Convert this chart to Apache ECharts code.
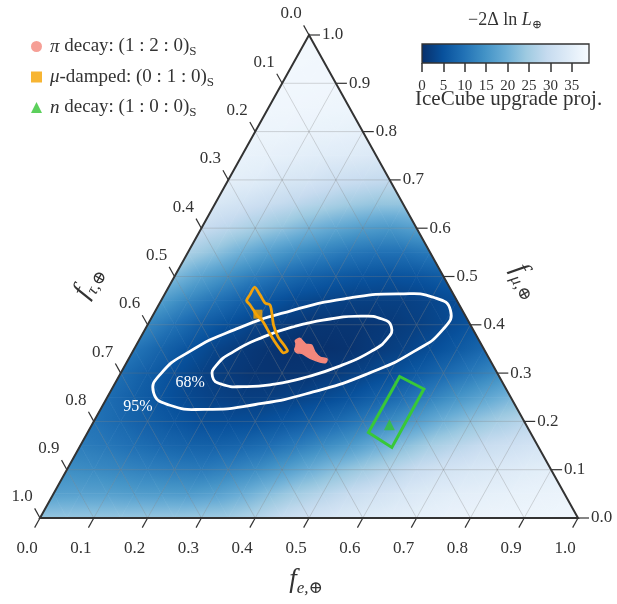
<!DOCTYPE html>
<html>
<head>
<meta charset="utf-8">
<script src="https://cdn.jsdelivr.net/npm/echarts@6/dist/echarts.min.js"></script>
<style>
  html, body { margin: 0; padding: 0; background: #fff; }
  #chart { width: 617px; height: 604px; }
</style>
</head>
<body>
<div id="chart"></div>
<script>
// Ternary axis ticks (shared by f_e, f_mu and f_tau)
const ternaryTicks = [0, 0.1, 0.2, 0.3, 0.4, 0.5, 0.6, 0.7, 0.8, 0.9, 1.0];
const tickLabels = ['0.0', '0.1', '0.2', '0.3', '0.4', '0.5', '0.6', '0.7', '0.8', '0.9', '1.0'];

// -2 Delta ln L on a ternary lattice: row j is f_mu = j*heatStep, entry i is f_e = i*heatStep
const heatStep = 0.05;
const heatRows = [
  [23.5, 23.6, 23.7, 23.7, 23.8, 23.9, 24.3, 24.9, 26.9, 29.6, 31.5, 32.9, 34.1, 34.9, 35.6, 36.3, 36.6, 37.0, 37.2, 37.4, 37.5],
  [17.1, 17.2, 17.0, 16.5, 16.3, 16.1, 17.1, 19.2, 22.1, 25.0, 27.3, 29.6, 31.4, 32.9, 34.2, 35.0, 35.5, 35.9, 36.3, 36.6],
  [14.0, 13.5, 12.8, 12.0, 11.4, 11.1, 12.2, 13.8, 16.3, 19.2, 22.1, 24.8, 27.3, 29.8, 31.6, 32.8, 33.7, 34.5, 35.1],
  [11.5, 10.6, 9.4, 8.3, 7.5, 7.3, 7.9, 9.2, 11.1, 13.5, 15.9, 19.0, 22.2, 25.3, 27.6, 29.6, 30.8, 32.1],
  [9.9, 8.4, 6.9, 5.6, 4.4, 4.3, 4.5, 5.5, 6.9, 8.7, 11.0, 13.6, 16.6, 20.0, 22.9, 25.3, 27.4],
  [9.1, 7.1, 5.3, 3.7, 2.6, 2.0, 2.1, 2.6, 3.7, 5.1, 7.1, 9.3, 12.0, 14.9, 17.7, 20.6],
  [9.2, 6.8, 4.7, 2.7, 1.6, 0.7, 0.6, 0.8, 1.6, 2.7, 4.3, 6.2, 8.5, 10.9, 13.5],
  [10.5, 7.7, 5.2, 3.1, 1.6, 0.6, 0.1, 0.2, 0.5, 1.5, 2.6, 4.3, 6.1, 8.3],
  [13.0, 9.8, 6.8, 4.7, 2.8, 1.7, 0.9, 0.7, 0.9, 1.4, 2.3, 3.5, 5.1],
  [16.6, 13.0, 10.0, 7.4, 5.5, 3.9, 3.0, 2.4, 2.3, 2.4, 3.1, 4.2],
  [21.4, 17.4, 14.3, 11.4, 9.2, 7.4, 6.2, 5.4, 5.0, 5.4, 6.5],
  [26.0, 23.0, 19.6, 16.7, 14.2, 12.3, 10.6, 9.8, 9.8, 11.0],
  [29.9, 27.8, 25.4, 23.0, 20.4, 18.2, 16.5, 15.6, 17.0],
  [33.0, 31.5, 29.9, 28.2, 26.5, 24.7, 23.5, 23.5],
  [35.4, 34.6, 33.2, 32.3, 30.8, 29.8, 29.0],
  [36.4, 35.9, 35.3, 34.6, 34.1, 33.5],
  [37.1, 36.9, 36.5, 36.2, 35.8],
  [37.6, 37.5, 37.3, 37.1],
  [37.9, 37.8, 37.7],
  [38.0, 37.9],
  [38.0]
];

// Colour scale of -2 Delta ln L
const colorTicks = [0, 5, 10, 15, 20, 25, 30, 35];
const colorMax = 39;
const bluesPalette = ['#08306b', '#08519c', '#2171b5', '#4292c6', '#6baed6', '#9ecae1', '#c6dbef', '#deebf7', '#f7fbff'];

// Confidence contours, points as [f_e, f_mu]
const contour68 = [
  [0.455, 0.396], [0.460, 0.372], [0.442, 0.344], [0.404, 0.317], [0.353, 0.293], [0.297, 0.277],
  [0.243, 0.272], [0.199, 0.277], [0.174, 0.293], [0.170, 0.317], [0.188, 0.345], [0.225, 0.373],
  [0.276, 0.397], [0.333, 0.412], [0.387, 0.418], [0.430, 0.412]
];
const contour95 = [
  [0.548, 0.430], [0.554, 0.391], [0.524, 0.346], [0.462, 0.300], [0.377, 0.261], [0.283, 0.235],
  [0.194, 0.225], [0.123, 0.234], [0.081, 0.260], [0.075, 0.298], [0.105, 0.344], [0.167, 0.390],
  [0.252, 0.429], [0.346, 0.455], [0.435, 0.464], [0.506, 0.456]
];
const contourNames = ['68%', '95%'];
const contourLabelAt = [[0.139, 0.280], [0.067, 0.230]];

// Allowed flavour regions at Earth for each source scenario, points as [f_e, f_mu]
const piDecayRegion = [
  [0.291, 0.367], [0.297, 0.372], [0.307, 0.365], [0.314, 0.360], [0.326, 0.358], [0.339, 0.344],
  [0.354, 0.333], [0.369, 0.329], [0.370, 0.322], [0.359, 0.323], [0.341, 0.329], [0.328, 0.335],
  [0.316, 0.341], [0.307, 0.342], [0.299, 0.349], [0.298, 0.358]
];
const muDampedRegion = [
  [0.160, 0.478], [0.178, 0.462], [0.196, 0.445], [0.207, 0.441], [0.219, 0.424], [0.234, 0.400],
  [0.255, 0.375], [0.278, 0.355], [0.287, 0.346], [0.281, 0.342], [0.272, 0.349], [0.254, 0.365],
  [0.236, 0.382], [0.218, 0.400], [0.207, 0.410], [0.193, 0.420], [0.181, 0.431], [0.170, 0.441],
  [0.159, 0.450], [0.159, 0.462]
];
const nDecayRegion = [[0.522, 0.293], [0.580, 0.267], [0.581, 0.146], [0.522, 0.177]];

// Best-fit flavour composition of each scenario, [f_e, f_mu]
const piDecayPoint = [0.305, 0.356];
const muDampedPoint = [0.194, 0.422];
const nDecayPoint = [0.553, 0.193];

const seriesNames = ['π decay', 'μ-damped', 'n decay'];
const legendParts = [
  ['π', ' decay: (1 : 2 : 0)'],
  ['μ', '-damped: (0 : 1 : 0)'],
  ['n', ' decay: (1 : 0 : 0)']
];

const SERIF = "'Liberation Serif', 'DejaVu Serif', serif";
const INK = '#333';

// ternary [f_e, f_mu] -> plane [x, y] of the hidden cartesian grid
const toXY = ([fe, fmu]) => [fe + fmu / 2, fmu];

// lattice triangles of the heat surface
const triangles = [];
for (let j = 0; j < heatRows.length - 1; j++) {
  for (let i = 0; i < heatRows[j].length - 1; i++) {
    triangles.push([[i, j], [i + 1, j], [i, j + 1]]);
    if (i + 1 < heatRows[j + 1].length) triangles.push([[i + 1, j], [i + 1, j + 1], [i, j + 1]]);
  }
}
const heatValue = ([i, j]) => heatRows[j][i];
const latticePoint = ([i, j]) => toXY([i * heatStep, j * heatStep]);

const colorOf = v => echarts.color.lerp(Math.min(1, Math.max(0, v / colorMax)), bluesPalette);

// fill of one lattice triangle: linear gradient along the steepest direction of the values
function shadeTriangle(p, v) {
  const dx1 = p[1][0] - p[0][0], dy1 = p[1][1] - p[0][1];
  const dx2 = p[2][0] - p[0][0], dy2 = p[2][1] - p[0][1];
  const dv1 = v[1] - v[0], dv2 = v[2] - v[0];
  const D = dx1 * dy2 - dx2 * dy1;
  const gx = (dv1 * dy2 - dv2 * dy1) / D;
  const gy = (dx1 * dv2 - dx2 * dv1) / D;
  const g2 = gx * gx + gy * gy;
  const lo = Math.min(v[0], v[1], v[2]), hi = Math.max(v[0], v[1], v[2]);
  if (g2 < 1e-12 || hi - lo < 1e-6) return colorOf((v[0] + v[1] + v[2]) / 3);
  const s = (lo - v[0]) / g2, e = (hi - v[0]) / g2;
  const stops = [];
  for (let k = 0; k <= 4; k++) {
    const t = k / 4;
    stops.push({ offset: t, color: colorOf(lo + t * (hi - lo)) });
  }
  return new echarts.graphic.LinearGradient(
    p[0][0] + s * gx, p[0][1] + s * gy, p[0][0] + e * gx, p[0][1] + e * gy, stops, true);
}

const unit = (a, b) => {
  const dx = b[0] - a[0], dy = b[1] - a[1], l = Math.hypot(dx, dy);
  return [dx / l, dy / l];
};

function tickText(text, x, y, align) {
  return {
    type: 'text', x, y,
    style: { text, fontFamily: SERIF, fontSize: 17, fill: INK, align, verticalAlign: 'middle' }
  };
}
function segment(a, b, style) {
  return { type: 'line', shape: { x1: a[0], y1: a[1], x2: b[0], y2: b[1] }, style };
}
function axisTitle(sub, x, y, deg) {
  return {
    type: 'text', x, y, rotation: deg * Math.PI / 180,
    style: {
      text: '{f|f}{s|' + sub + '}', align: 'center', verticalAlign: 'middle',
      rich: {
        f: { fontFamily: SERIF, fontSize: 27, fontStyle: 'italic', fill: INK },
        s: { fontFamily: SERIF, fontSize: 17, fontStyle: 'italic', fill: INK, verticalAlign: 'bottom', lineHeight: 34 }
      }
    }
  };
}

const chart = echarts.init(document.getElementById('chart'), null, { renderer: 'canvas' });

const option = {
  animation: false,
  backgroundColor: '#fff',
  grid: [
    { left: 40, right: 39, top: 35, bottom: 86 },
    { left: 422, top: 44, width: 167, height: 19 }
  ],
  xAxis: [
    { gridIndex: 0, type: 'value', min: 0, max: 1, show: false },
    {
      gridIndex: 1, type: 'value', min: 0, max: colorMax,
      axisLine: { show: false },
      splitLine: { show: false },
      axisTick: { show: true, customValues: colorTicks, length: 9, lineStyle: { color: INK, width: 1.5 } },
      axisLabel: { customValues: colorTicks, fontFamily: SERIF, fontSize: 15, color: INK, margin: 16 }
    }
  ],
  yAxis: [
    { gridIndex: 0, type: 'value', min: 0, max: 1, show: false },
    { gridIndex: 1, type: 'value', min: 0, max: 1, show: false }
  ],
  visualMap: {
    show: false, type: 'continuous', seriesIndex: 0, dimension: 2,
    min: 0, max: colorMax, inRange: { color: bluesPalette }
  },
  legend: {
    orient: 'vertical', left: 31, top: 37, padding: 0, itemWidth: 11, itemHeight: 11, itemGap: 9,
    data: [
      { name: seriesNames[0], icon: 'circle' },
      { name: seriesNames[1], icon: 'rect' },
      { name: seriesNames[2], icon: 'triangle' }
    ],
    formatter: name => {
      const k = seriesNames.indexOf(name);
      return '{it|' + legendParts[k][0] + '}{tx|' + legendParts[k][1] + '}{sub|S}';
    },
    textStyle: {
      color: INK, fontFamily: SERIF, fontSize: 19,
      rich: {
        it: { fontFamily: SERIF, fontSize: 19, fontStyle: 'italic', color: INK, lineHeight: 24, padding: [0, 0, 0, 3] },
        tx: { fontFamily: SERIF, fontSize: 19, color: INK, lineHeight: 24 },
        sub: { fontFamily: SERIF, fontSize: 13, color: INK, verticalAlign: 'bottom', lineHeight: 24 }
      }
    }
  },
  graphic: [
    {
      type: 'text', x: 505, y: 20,
      style: {
        text: '{a|−2Δ ln }{b|L}{c|⊕}', align: 'center', verticalAlign: 'middle',
        rich: {
          a: { fontFamily: SERIF, fontSize: 18, fill: INK },
          b: { fontFamily: SERIF, fontSize: 18, fontStyle: 'italic', fill: INK },
          c: { fontFamily: SERIF, fontSize: 12, fill: INK, verticalAlign: 'bottom', lineHeight: 22 }
        }
      }
    },
    {
      type: 'text', x: 415, y: 99,
      style: { text: 'IceCube upgrade proj.', fontFamily: SERIF, fontSize: 21, fill: INK, align: 'left', verticalAlign: 'middle' }
    },
    axisTitle('e,⊕', 306, 580, 0),
    axisTitle('τ,⊕', 88, 282, 60.9),
    axisTitle('μ,⊕', 526, 281, -60.9)
  ],
  series: [
    // heat surface
    {
      type: 'custom', name: 'likelihood', coordinateSystem: 'cartesian2d', xAxisIndex: 0, yAxisIndex: 0,
      silent: true, z: 1,
      data: triangles.map(t => {
        const c = t.map(latticePoint);
        return [(c[0][0] + c[1][0] + c[2][0]) / 3, (c[0][1] + c[1][1] + c[2][1]) / 3,
          (heatValue(t[0]) + heatValue(t[1]) + heatValue(t[2])) / 3];
      }),
      renderItem: (params, api) => {
        const tri = triangles[params.dataIndex];
        const pts = tri.map(n => api.coord(latticePoint(n)));
        const fill = shadeTriangle(pts, tri.map(heatValue));
        return { type: 'polygon', shape: { points: pts }, style: { fill, stroke: fill, lineWidth: 0.7 } };
      }
    },
    // lattice lines every 0.1
    {
      type: 'custom', coordinateSystem: 'cartesian2d', silent: true, z: 2,
      data: ternaryTicks.slice(1, -1).map(t => [t, 0]),
      renderItem: (params, api) => {
        const t = ternaryTicks[params.dataIndex + 1];
        const st = { stroke: 'rgba(120,120,120,0.42)', lineWidth: 0.7 };
        const c = p => api.coord(toXY(p));
        return {
          type: 'group', children: [
            segment(c([t, 0]), c([t, 1 - t]), st),
            segment(c([0, t]), c([1 - t, t]), st),
            segment(c([1 - t, 0]), c([0, 1 - t]), st)
          ]
        };
      }
    },
    // frame, ticks and tick labels of the three axes
    {
      type: 'custom', coordinateSystem: 'cartesian2d', silent: true, z: 6,
      data: ternaryTicks.map(t => [t, 0]),
      renderItem: (params, api) => {
        const t = ternaryTicks[params.dataIndex];
        const lab = tickLabels[params.dataIndex];
        const c = p => api.coord(toXY(p));
        const BL = c([0, 0]), BR = c([1, 0]), T = c([0, 1]);
        const up = unit(BL, T), down = unit(T, BR);
        const L = 11;
        const st = { stroke: INK, lineWidth: 1.2 };
        const b = c([t, 0]);
        const r = c([1 - t, t]);
        const l = c([0, 1 - t]);
        const children = [
          segment(b, [b[0] - L * up[0], b[1] - L * up[1]], st),
          segment(r, [r[0] + L, r[1]], st),
          segment(l, [l[0] - L * down[0], l[1] - L * down[1]], st),
          tickText(lab, b[0] - 13, b[1] + 31, 'center'),
          tickText(lab, r[0] + 13, r[1], 'left'),
          tickText(lab, l[0] - 18, l[1] - 21, 'center')
        ];
        if (params.dataIndex === 0) {
          children.unshift({
            type: 'polygon', shape: { points: [BL, BR, T] },
            style: { fill: 'none', stroke: INK, lineWidth: 2, lineJoin: 'miter' }
          });
        }
        return { type: 'group', children };
      }
    },
    // confidence contours
    {
      type: 'custom', coordinateSystem: 'cartesian2d', silent: true, z: 3,
      data: [[0.3, 0.35], [0.3, 0.35]],
      renderItem: (params, api) => {
        const k = params.dataIndex;
        const line = [contour68, contour95][k];
        const pts = line.map(p => api.coord(toXY(p)));
        const at = api.coord(toXY(contourLabelAt[k]));
        return {
          type: 'group', children: [
            { type: 'polygon', shape: { points: pts, smooth: 0.55 }, style: { fill: 'none', stroke: '#fff', lineWidth: 2.8 } },
            {
              type: 'text', x: at[0], y: at[1],
              style: { text: contourNames[k], fontFamily: SERIF, fontSize: 16, fill: '#fff', align: 'center', verticalAlign: 'middle' }
            }
          ]
        };
      }
    },
    // scenario regions
    {
      type: 'custom', coordinateSystem: 'cartesian2d', silent: true, z: 4,
      data: [[0.3, 0.35], [0.2, 0.42], [0.55, 0.2]],
      renderItem: (params, api) => {
        const k = params.dataIndex;
        const shape = [piDecayRegion, muDampedRegion, nDecayRegion][k];
        const pts = shape.map(p => api.coord(toXY(p)));
        const styles = [
          { fill: '#f4877c', stroke: '#f4877c', lineWidth: 1.5 },
          { fill: 'none', stroke: '#f2a20a', lineWidth: 2.8, lineJoin: 'round' },
          { fill: 'none', stroke: '#38c838', lineWidth: 3, lineJoin: 'miter' }
        ];
        return { type: 'polygon', shape: { points: pts, smooth: k === 2 ? 0 : 0.25 }, style: styles[k] };
      }
    },
    {
      type: 'scatter', name: seriesNames[0], symbol: 'circle', symbolSize: 10, z: 5,
      itemStyle: { color: '#f4877c' }, data: [toXY(piDecayPoint)]
    },
    {
      type: 'scatter', name: seriesNames[1], symbol: 'rect', symbolSize: 9, z: 5,
      itemStyle: { color: '#f5a300' }, data: [toXY(muDampedPoint)]
    },
    {
      type: 'scatter', name: seriesNames[2], symbol: 'triangle', symbolSize: 11, z: 5,
      itemStyle: { color: '#33c433' }, data: [toXY(nDecayPoint)]
    },
    // colour bar
    {
      type: 'custom', coordinateSystem: 'cartesian2d', xAxisIndex: 1, yAxisIndex: 1, silent: true, z: 5,
      data: [[0, 0]],
      renderItem: (params, api) => {
        const a = api.coord([0, 1]), b = api.coord([colorMax, 0]);
        const stops = bluesPalette.map((col, k) => ({ offset: k / (bluesPalette.length - 1), color: col }));
        const shape = { x: a[0], y: a[1], width: b[0] - a[0], height: b[1] - a[1] };
        return {
          type: 'group', children: [
            { type: 'rect', shape, style: { fill: new echarts.graphic.LinearGradient(0, 0, 1, 0, stops) } },
            { type: 'rect', shape, style: { fill: 'none', stroke: INK, lineWidth: 1.3 } }
          ]
        };
      }
    }
  ]
};

chart.setOption(option);
</script>
</body>
</html>
